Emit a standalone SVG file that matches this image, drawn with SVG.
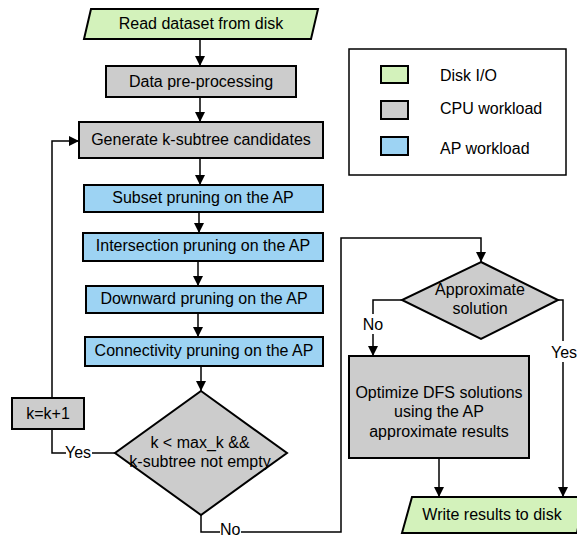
<svg xmlns="http://www.w3.org/2000/svg" width="577" height="536" viewBox="0 0 577 536">
<defs>
<marker id="ah" viewBox="0 0 10 10" refX="10" refY="5" markerWidth="10" markerHeight="10" markerUnits="userSpaceOnUse" orient="auto">
<path d="M0,0 L10,5 L0,10 z" fill="#000"/>
</marker>
<style>
.n{stroke:#000;stroke-width:2}
.io{fill:#d3f2bb}
.cpu{fill:#cccccc}
.ap{fill:#9dd3f3}
.t{font-family:"Liberation Sans",Arial,sans-serif;font-size:16px;fill:#000;text-anchor:middle;dominant-baseline:central}
.tl{font-family:"Liberation Sans",Arial,sans-serif;font-size:16px;fill:#000;dominant-baseline:central}
.c{fill:none;stroke:#000;stroke-width:1.5}
.ca{fill:none;stroke:#000;stroke-width:1.5;marker-end:url(#ah)}
</style>
</defs>
<rect width="577" height="536" fill="#fff"/>
<g id="connectors">
<line class="ca" x1="200" y1="39" x2="200" y2="66"/>
<line class="ca" x1="200" y1="97" x2="200" y2="122"/>
<line class="ca" x1="200" y1="158" x2="200" y2="185"/>
<line class="ca" x1="199" y1="212" x2="199" y2="233"/>
<line class="ca" x1="198" y1="261" x2="198" y2="286"/>
<line class="ca" x1="198" y1="313" x2="198" y2="337"/>
<line class="ca" x1="201" y1="366" x2="201" y2="391"/>
<polyline class="c" points="115,453 92,453"/>
<polyline class="c" points="66,453 52,453 52,429"/>
<polyline class="ca" points="52,398 52,141 79,141"/>
<polyline class="c" points="201,515 201,532 220,532"/>
<polyline class="ca" points="241,532 341,532 341,238 481,238 481,262"/>
<polyline class="c" points="402,300 373,300 373,314"/>
<polyline class="ca" points="373,334 373,356"/>
<polyline class="c" points="558,300 563,300 563,341"/>
<polyline class="ca" points="563,362 563,497"/>
<line class="ca" x1="439" y1="458" x2="439" y2="497"/>
<text class="tl" x="65" y="452">Yes</text>
<text class="tl" x="220" y="529">No</text>
<text class="t" x="373" y="324">No</text>
<text class="t" x="564" y="352">Yes</text>
</g>
<g id="read">
<polygon class="n io" points="91,9 318,9 311,39 84,39"/>
<text class="t" x="201" y="23">Read dataset from disk</text>
</g>
<g id="preprocess">
<rect class="n cpu" x="106" y="66" width="190" height="31"/>
<text class="t" x="201" y="81">Data pre-processing</text>
</g>
<g id="generate">
<rect class="n cpu" x="79" y="122" width="244" height="36"/>
<text class="t" x="201" y="139">Generate k-subtree candidates</text>
</g>
<g id="subset">
<rect class="n ap" x="84" y="185" width="239" height="27"/>
<text class="t" x="203" y="197">Subset pruning on the AP</text>
</g>
<g id="intersection">
<rect class="n ap" x="83" y="233" width="240" height="28"/>
<text class="t" x="203" y="245">Intersection pruning on the AP</text>
</g>
<g id="downward">
<rect class="n ap" x="86" y="286" width="237" height="27"/>
<text class="t" x="204" y="298">Downward pruning on the AP</text>
</g>
<g id="connectivity">
<rect class="n ap" x="85" y="337" width="238" height="29"/>
<text class="t" x="204" y="350">Connectivity pruning on the AP</text>
</g>
<g id="cond">
<polygon class="n cpu" points="201,391 287,453 201,515 115,453"/>
<text class="t" x="200" y="442">k &lt; max_k &amp;&amp;</text>
<text class="t" x="200" y="461">k-subtree not empty</text>
</g>
<g id="inc">
<rect class="n cpu" x="12" y="398" width="72" height="31"/>
<text class="t" x="48" y="413">k=k+1</text>
</g>
<g id="approx">
<polygon class="n cpu" points="481,262 558,300 481,339 402,300"/>
<text class="t" x="480" y="289">Approximate</text>
<text class="t" x="480" y="308">solution</text>
</g>
<g id="optimize">
<rect class="n cpu" x="349" y="356" width="180" height="102"/>
<text class="t" x="439" y="392">Optimize DFS solutions</text>
<text class="t" x="439" y="411">using the AP</text>
<text class="t" x="439" y="431">approximate results</text>
</g>
<g id="write">
<polygon class="n io" points="412,497 584,497 577,533 402,533"/>
<text class="t" x="492" y="514">Write results to disk</text>
</g>
<g id="legend">
<rect x="349" y="49" width="217" height="126" fill="#fff" stroke="#000" stroke-width="1.5"/>
<rect class="n io" x="381" y="66" width="27" height="17"/>
<rect class="n cpu" x="381" y="101" width="27" height="18"/>
<rect class="n ap" x="381" y="137" width="27" height="18"/>
<text class="tl" x="440" y="75">Disk I/O</text>
<text class="tl" x="440" y="108">CPU workload</text>
<text class="tl" x="440" y="148">AP workload</text>
</g>
</svg>
